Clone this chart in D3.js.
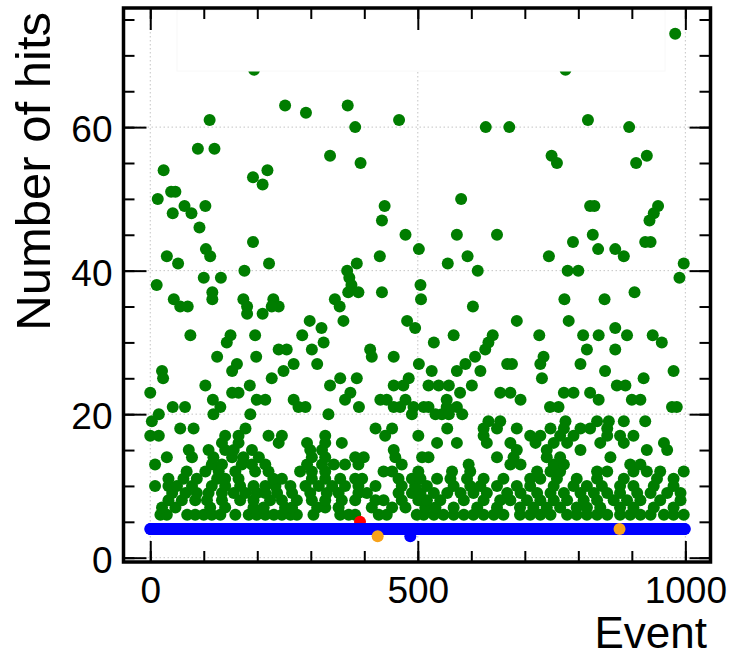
<!DOCTYPE html>
<html>
<head>
<meta charset="utf-8">
<script src="https://cdn.jsdelivr.net/npm/d3@7"></script>
<style>
  body { margin: 0; background: #fff; }
  text { font-family: "Liberation Sans", Arial, sans-serif; }
</style>
</head>
<body>
<div id="chart"></div>
<script>
// Tick values
const xMajorTicks = [0, 500, 1000];
const xMinorTicks = [0, 100, 200, 300, 400, 500, 600, 700, 800, 900, 1000];
const yMajorTicks = [0, 20, 40, 60];
const yMinorTicks = [0, 5, 10, 15, 20, 25, 30, 35, 40, 45, 50, 55, 60, 65, 70, 75];

// Green points with many hits: [event, hits]
const greenHigh = [
  [194,68],[252,63],[291,62],[369,63],[383,60],[111,61],[89,57],[120,57],[336,56],[393,55],
  [25,54],[192,53],[210,52],[219,54],[14,50],[39,51],[47,51],[42,48],[64,49],[77,48],
  [103,49],[92,46],[192,44],[104,43],[112,42],[31,42],[52,41],[222,41],[176,40],[12,38],
  [100,39],[132,39],[116,37],[116,36],[44,36],[56,35],[70,35],[174,36],[181,35],[181,34],
  [210,34],[230,36],[240,35],[227,35],[298,33],[320,32],[345,36],[354,35],[361,33],[368,40],
  [372,39],[376,38],[370,37],[386,41],[389,37],[75,31],[150,31],[196,31],[284,31],
  [981,73],[776,68],[465,61],[627,60],[671,60],[818,61],[895,60],[750,56],[760,55],[908,55],
  [928,56],[581,50],[438,49],[433,47],[822,49],[830,49],[949,49],[941,48],[933,47],[477,45],
  [573,45],[648,45],[827,45],[925,44],[935,44],[502,43],[790,44],[837,43],[869,43],[885,42],
  [429,42],[556,41],[593,42],[612,40],[745,42],[780,40],[800,40],[997,41],[989,39],[433,37],
  [505,38],[506,36],[603,35],[774,36],[849,36],[905,37],[480,33],[495,32],[685,33],[782,33],
  [640,31],[727,31],[809,31],[869,32],[891,31],
  [143,30],[324,30],[125,28],[198,28],[162,27],[153,26],[240,29],[255,29],[268,27],[249,26],
  [227,25],[302,29],[312,27],[22,26],[24,25],[0,23],[103,24],[186,24],[153,23],[165,23],
  [117,22],[131,21],[118,20],[42,21],[65,21],[199,22],[215,22],[187,20],[268,22],[277,21],
  [290,21],[333,20],[336,24],[355,25],[374,23],[364,22],[386,25],[390,21],[3,19],[16,20],
  [567,31],[632,30],[626,29],[838,31],[939,31],[956,30],[411,29],[414,28],[455,28],[530,30],
  [502,27],[589,27],[573,26],[607,28],[617,26],[667,27],[676,27],[735,28],[729,27],[816,29],
  [804,27],[869,29],[978,26],[732,25],[850,26],[922,25],[455,24],[473,24],[483,25],[526,26],
  [520,24],[539,24],[558,24],[579,23],[601,24],[654,23],[673,23],[692,22],[747,21],[773,23],
  [763,21],[791,23],[822,23],[838,22],[872,24],[888,24],[916,22],[900,22],[975,21],[984,21],
  [430,22],[442,22],[455,21],[467,21],[477,22],[492,21],[489,20],[511,21],[520,21],[533,20],
  [554,21],[573,21],[583,20],[545,20],[558,20],[554,22],[632,19],[654,19],[776,19],[835,19],
  [857,19],[885,19],[925,19]
];

// Green points with few hits, one row per hits value: [hits, [events]]
const greenLow = [
  [6, [19,31,69,84,100,115,131,159,184,199,215,231,246,262,274,305,355,371,383,427,442,498,
       511,530,548,567,586,604,623,642,660,691,710,729,748,779,797,816,835,854,878,897,916,935,960,978,997]],
  [7, [22,47,112,140,193,212,252,265,312,327,352,414,452,477,514,533,567,611,648,691,716,741,
       766,797,816,841,878,903,941,978]],
  [8, [34,59,84,106,134,168,193,224,246,274,302,327,358,383,421,436,470,501,517,542,586,623,
       654,673,704,729,754,779,810,835,866,891,916,953,991]],
  [9, [41,66,87,109,134,156,178,199,215,237,265,299,330,352,389,405,464,489,505,530,555,580,
       604,629,667,692,723,748,773,804,829,854,878,910,935,966,991]],
  [10, [9,34,50,78,115,140,168,193,215,234,262,290,315,340,364,389,421,470,495,517,567,598,
        617,648,685,710,754,791,816,844,878,903,941,978]],
  [11, [34,62,87,125,140,165,230,246,302,327,355,383,396,464,489,505,536,561,592,623,660,710,
        729,760,797,835,885,947,978]],
  [12, [68,103,128,159,196,221,280,302,327,436,452,501,564,598,723,748,766,835,854,903,928,953,997]],
  [13, [9,115,134,171,190,215,293,321,343,364,389,470,595,673,692,754,773,897,916]],
  [14, [31,78,118,153,174,203,302,327,383,399,458,508,520,648,679,741,766,860]],
  [15, [72,109,140,156,190,299,321,455,685,741,804,928,966]],
  [16, [134,165,240,293,327,358,536,573,629,673,720,754,779,841,885,960]],
  [17, [0,16,140,165,221,246,327,439,501,623,710,729,766,791,854,878,903]],
  [18, [56,81,178,421,452,555,623,648,685,748,773,804,822,854]]
];

// Blue: hits per event as runs [firstEvent, lastEvent, hits]
const blueRuns = [[0, 485, 4], [486, 486, 3], [487, 999, 4]];

// Red and orange single events: [event, hits]
const redPoints = [[392, 5]];
const orangePoints = [[425, 3], [877, 4]];

const width = 729, height = 660;
const plotLeft = 123.5, plotRight = 710.5, plotTop = 8, plotBottom = 562;
const radius = 6;

const svg = d3.select("#chart").append("svg")
    .attr("width", width)
    .attr("height", height);

const x = d3.scaleLinear().domain([-50, 1047]).range([plotLeft, plotRight]);
const y = d3.scaleLinear().domain([-0.6, 76.6]).range([plotBottom, plotTop]);

// clip to the frame
svg.append("clipPath").attr("id", "plotClip")
    .append("rect")
    .attr("x", plotLeft).attr("y", plotTop)
    .attr("width", plotRight - plotLeft).attr("height", plotBottom - plotTop);

// dotted grid at major ticks
const grid = svg.append("g").attr("class", "grid");
grid.selectAll(".gx").data(xMajorTicks).enter().append("line")
    .attr("x1", d => x(d)).attr("x2", d => x(d))
    .attr("y1", plotTop).attr("y2", plotBottom)
    .style("stroke", "#c4c4c4").style("stroke-dasharray", "1.5,2.5");
grid.selectAll(".gy").data(yMajorTicks).enter().append("line")
    .attr("x1", plotLeft).attr("x2", plotRight)
    .attr("y1", d => y(d)).attr("y2", d => y(d))
    .style("stroke", "#c4c4c4").style("stroke-dasharray", "1.5,2.5");

// flatten the data
const greenData = greenHigh.slice();
greenLow.forEach(row => row[1].forEach(ev => greenData.push([ev, row[0]])));

const blueData = [];
blueRuns.forEach(r => {
    for (let ev = r[0]; ev <= r[1]; ev++) blueData.push([ev, r[2]]);
});

const plot = svg.append("g").attr("clip-path", "url(#plotClip)");

function drawPoints(data, color) {
    plot.append("g").selectAll("circle")
        .data(data)
        .enter().append("circle")
        .attr("cx", d => x(d[0]))
        .attr("cy", d => y(d[1]))
        .attr("r", radius)
        .style("fill", color);
}

drawPoints(greenData, "#007d00");
drawPoints(redPoints, "#ff0000");
drawPoints(blueData, "#0000ff");
drawPoints(orangePoints, "#f7a21b");

// empty legend box near the top
svg.append("rect")
    .attr("x", 177).attr("y", 10)
    .attr("width", 488).attr("height", 61)
    .style("fill", "#fff")
    .style("stroke", "#f8f8f8");

// axes: ticks point into the frame
function styleAxis(g) {
    g.select(".domain").remove();
    g.selectAll(".tick line").style("stroke", "#000").style("stroke-width", 2);
}

svg.append("g").attr("transform", `translate(0,${plotBottom})`)
    .call(d3.axisBottom(x).tickValues(xMinorTicks).tickSize(-11).tickFormat(""))
    .call(styleAxis);
svg.append("g").attr("transform", `translate(0,${plotTop})`)
    .call(d3.axisTop(x).tickValues(xMinorTicks).tickSize(-11).tickFormat(""))
    .call(styleAxis);
svg.append("g").attr("transform", `translate(0,${plotTop})`)
    .call(d3.axisTop(x).tickValues(xMajorTicks).tickSize(-22).tickFormat(""))
    .call(styleAxis);
svg.append("g").attr("transform", `translate(${plotLeft},0)`)
    .call(d3.axisLeft(y).tickValues(yMinorTicks).tickSize(-11).tickFormat(""))
    .call(styleAxis);
svg.append("g").attr("transform", `translate(${plotRight},0)`)
    .call(d3.axisRight(y).tickValues(yMinorTicks).tickSize(-11).tickFormat(""))
    .call(styleAxis);
svg.append("g").attr("transform", `translate(${plotRight},0)`)
    .call(d3.axisRight(y).tickValues(yMajorTicks).tickSize(-21).tickFormat(""))
    .call(styleAxis);

const xAxis = svg.append("g").attr("transform", `translate(0,${plotBottom})`)
    .call(d3.axisBottom(x).tickValues(xMajorTicks).tickSize(-21).tickPadding(15).tickFormat(d3.format("d")))
    .call(styleAxis);
xAxis.selectAll("text")
    .style("font-size", "37px").style("fill", "#000")
    .style("font-family", "'Liberation Sans', Arial, sans-serif");

const yAxis = svg.append("g").attr("transform", `translate(${plotLeft},0)`)
    .call(d3.axisLeft(y).tickValues(yMajorTicks).tickSize(-23).tickPadding(11).tickFormat(d3.format("d")))
    .call(styleAxis);
yAxis.selectAll("text")
    .attr("dy", "0.4em")
    .style("font-size", "37px").style("fill", "#000")
    .style("font-family", "'Liberation Sans', Arial, sans-serif");

// frame
svg.append("rect")
    .attr("x", plotLeft).attr("y", plotTop)
    .attr("width", plotRight - plotLeft).attr("height", plotBottom - plotTop)
    .style("fill", "none")
    .style("stroke", "#000")
    .style("stroke-width", 3.5);

// axis titles
svg.append("text")
    .attr("x", 707).attr("y", 648)
    .attr("text-anchor", "end")
    .style("font-size", "44px")
    .text("Event");

svg.append("text")
    .attr("transform", "translate(50,12) rotate(-90)")
    .attr("text-anchor", "end")
    .style("font-size", "49px")
    .text("Number of hits");
</script>
</body>
</html>
